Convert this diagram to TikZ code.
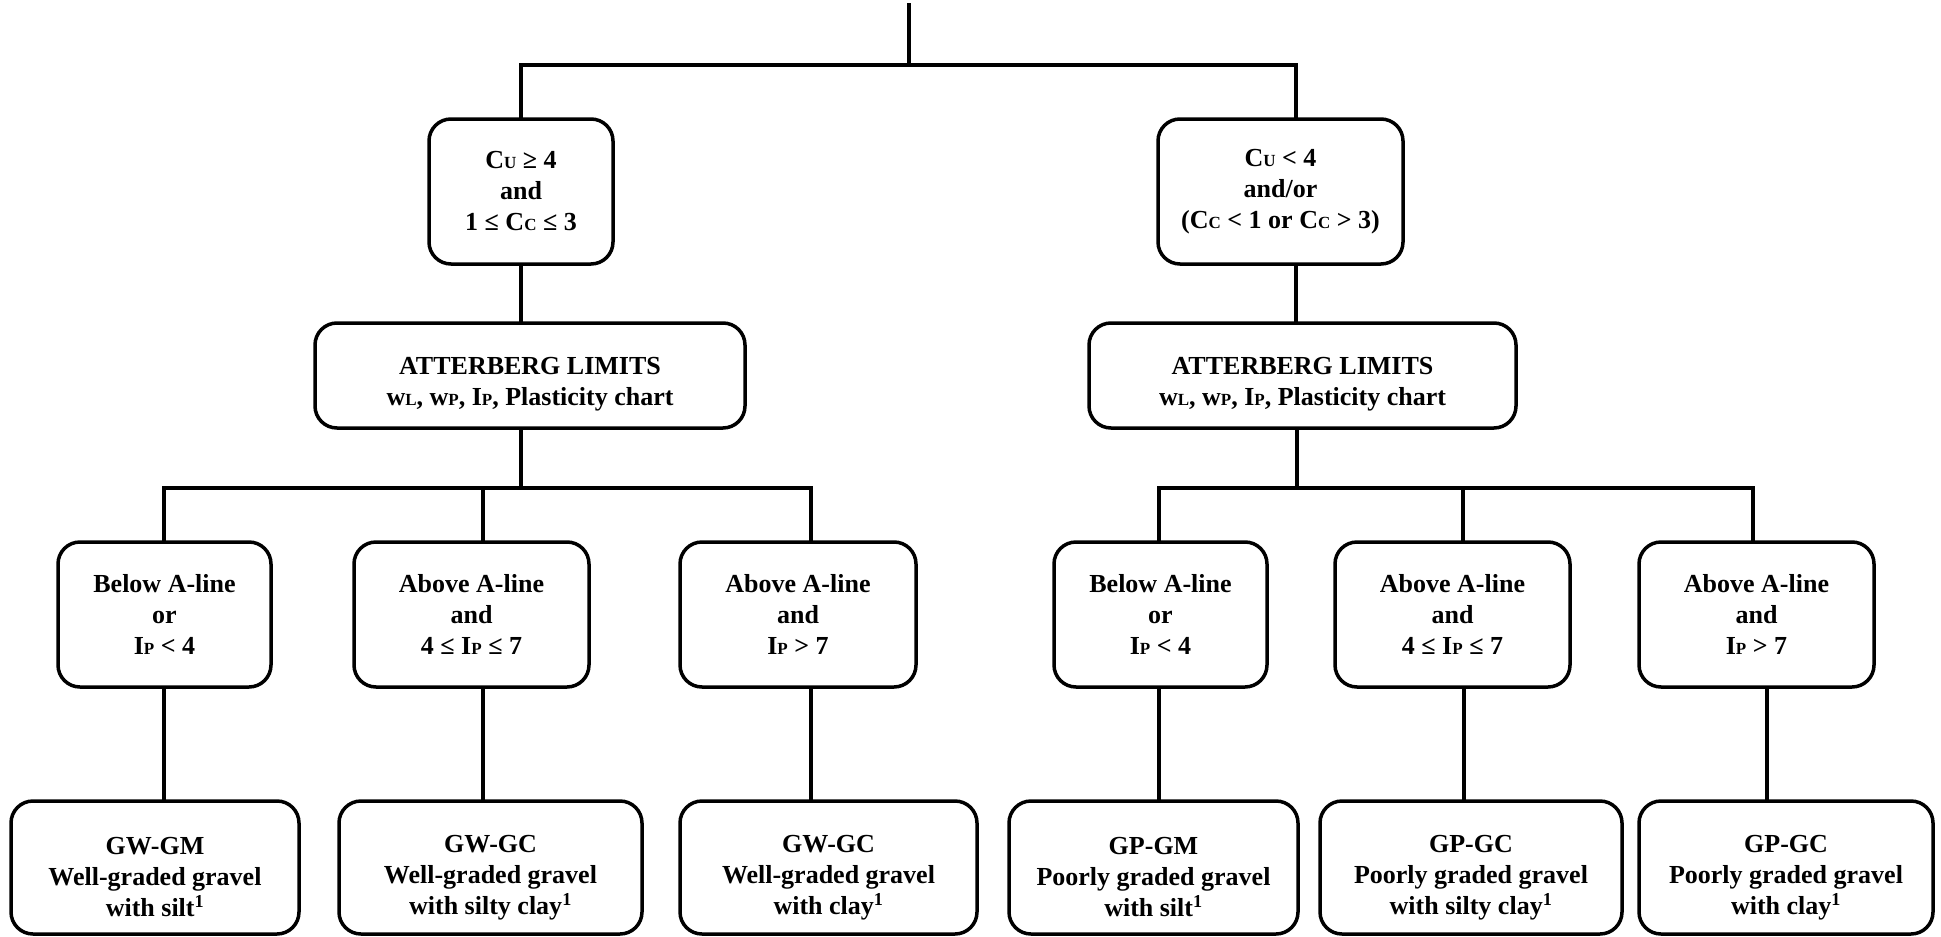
\documentclass[tikz,border=0pt]{standalone}
\usepackage{fontspec}
\setmainfont{Liberation Serif}
\newcommand{\ls}[1]{{\fontsize{17}{17}\selectfont #1}}
\newcommand{\sone}{\textsuperscript{1}}
\newcommand{\dn}[1]{\rule{0pt}{#1}}
\tikzset{
  box/.style={draw, line width=3.5pt, rounded corners=22pt, align=center,
    inner sep=0pt, font=\fontsize{26}{31}\selectfont\bfseries},
  conn/.style={draw, line width=3.2pt, line cap=rect},
}
\begin{document}
\begin{tikzpicture}[x=1pt,y=-1pt]
\useasboundingbox[fill=white] (0,0) rectangle (1941,937);

% top level
\node[box, minimum width=184pt, minimum height=145pt] (TL) at (521,191.5)
  {C\ls{U} ≥ 4\\and\\1 ≤ C\ls{C} ≤ 3};
\node[box, minimum width=245pt, minimum height=145pt] (TR) at (1280.5,191.5)
  {C\ls{U} < 4\\and/or\\(C\ls{C} < 1 or C\ls{C} > 3)};

% Atterberg
\node[box, minimum width=430pt, minimum height=105pt] (AL) at (530,375.5)
  {\dn{35pt}ATTERBERG LIMITS\\w\ls{L}, w\ls{P}, I\ls{P}, Plasticity chart};
\node[box, minimum width=427pt, minimum height=105pt] (AR) at (1302.5,375.5)
  {\dn{35pt}ATTERBERG LIMITS\\w\ls{L}, w\ls{P}, I\ls{P}, Plasticity chart};

% middle row
\node[box, minimum width=213pt, minimum height=145pt] (M1) at (164.5,614.5)
  {Below A-line\\or\\I\ls{P} < 4};
\node[box, minimum width=235pt, minimum height=145pt] (M2) at (471.5,614.5)
  {Above A-line\\and\\4 ≤ I\ls{P} ≤ 7};
\node[box, minimum width=236pt, minimum height=145pt] (M3) at (798,614.5)
  {Above A-line\\and\\I\ls{P} > 7};
\node[box, minimum width=213pt, minimum height=145pt] (M4) at (1160.5,614.5)
  {Below A-line\\or\\I\ls{P} < 4};
\node[box, minimum width=235pt, minimum height=145pt] (M5) at (1452.5,614.5)
  {Above A-line\\and\\4 ≤ I\ls{P} ≤ 7};
\node[box, minimum width=235pt, minimum height=145pt] (M6) at (1756.5,614.5)
  {Above A-line\\and\\I\ls{P} > 7};

% bottom row
\node[box, minimum width=288pt, minimum height=133pt] (B1) at (155,867.5)
  {\dn{37pt}GW-GM\\Well-graded gravel\\with silt\sone};
\node[box, minimum width=303pt, minimum height=133pt] (B2) at (490.5,867.5)
  {\dn{37pt}GW-GC\\Well-graded gravel\\with silty clay\sone};
\node[box, minimum width=297pt, minimum height=133pt] (B3) at (828.5,867.5)
  {\dn{37pt}GW-GC\\Well-graded gravel\\with clay\sone};
\node[box, minimum width=289pt, minimum height=133pt] (B4) at (1153.5,867.5)
  {\dn{37pt}GP-GM\\Poorly graded gravel\\with silt\sone};
\node[box, minimum width=302pt, minimum height=133pt] (B5) at (1471,867.5)
  {\dn{37pt}GP-GC\\Poorly graded gravel\\with silty clay\sone};
\node[box, minimum width=294pt, minimum height=133pt] (B6) at (1786,867.5)
  {\dn{37pt}GP-GC\\Poorly graded gravel\\with clay\sone};

% connector coordinates
\coordinate (root) at (909,5);
\coordinate (j1) at (909,65);
\coordinate (j1L) at (521,65);
\coordinate (j1R) at (1296,65);
\coordinate (j2L) at (521,488);
\coordinate (j2R) at (1297,488);
\coordinate (c1) at (164,488);
\coordinate (c2) at (483,488);
\coordinate (c3) at (811,488);
\coordinate (c4) at (1159,488);
\coordinate (c5) at (1463,488);
\coordinate (c6) at (1753,488);
\coordinate (d5) at (1464,0);
\coordinate (d6) at (1767,0);

\draw[conn] (root) -- (j1);
\draw[conn] (j1L) -- (j1R);
\draw[conn] (j1L) -- (TL.north -| j1L);
\draw[conn] (j1R) -- (TR.north -| j1R);
\draw[conn] (TL.south -| j1L) -- (AL.north -| j1L);
\draw[conn] (TR.south -| j1R) -- (AR.north -| j1R);
\draw[conn] (AL.south -| j2L) -- (j2L);
\draw[conn] (AR.south -| j2R) -- (j2R);
\draw[conn] (c1) -- (c3);
\draw[conn] (c4) -- (c6);
\draw[conn] (c1) -- (M1.north -| c1);
\draw[conn] (c2) -- (M2.north -| c2);
\draw[conn] (c3) -- (M3.north -| c3);
\draw[conn] (c4) -- (M4.north -| c4);
\draw[conn] (c5) -- (M5.north -| c5);
\draw[conn] (c6) -- (M6.north -| c6);
\draw[conn] (M1.south -| c1) -- (B1.north -| c1);
\draw[conn] (M2.south -| c2) -- (B2.north -| c2);
\draw[conn] (M3.south -| c3) -- (B3.north -| c3);
\draw[conn] (M4.south -| c4) -- (B4.north -| c4);
\draw[conn] (M5.south -| d5) -- (B5.north -| d5);
\draw[conn] (M6.south -| d6) -- (B6.north -| d6);
\end{tikzpicture}
\end{document}
